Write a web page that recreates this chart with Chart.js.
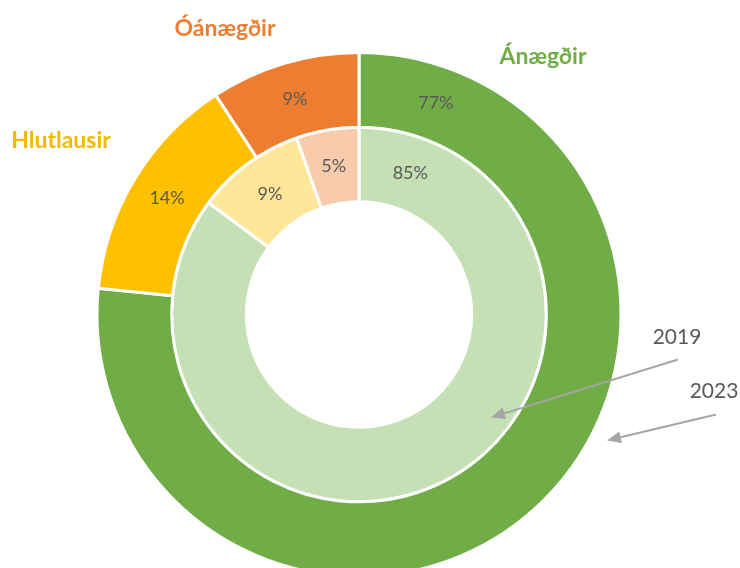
<!DOCTYPE html>
<html>
<head>
<meta charset="utf-8">
<script src="https://cdn.jsdelivr.net/npm/chart.js@4"></script>
<style>
html,body{margin:0;padding:0;background:#fff;overflow:hidden;width:740px;height:568px;}
#wrap{position:absolute;left:0;top:0;width:740px;height:600px;}
</style>
</head>
<body>
<div id="wrap"><canvas id="c" width="740" height="600"></canvas></div>
<script>
// ---- data ----
const categories = ['Ánægðir', 'Hlutlausir', 'Óánægðir'];
const years = ['2023', '2019'];
const values2023 = [76.6, 14.2, 9.2];
const values2019 = [85.0, 9.4, 5.4];

const outerColors = ['#70AD47', '#FFC000', '#ED7D31'];
const innerColors = ['#C5E0B4', '#FFE699', '#F8CBAD'];
const catLabelColors = ['#70AD47', '#F5B800', '#ED7D31'];

const ringLabels = {
  id: 'ringLabels',
  afterDatasetsDraw(chart) {
    const ctx = chart.ctx;
    ctx.save();
    ctx.font = '18px Lato, "Open Sans", sans-serif';
    ctx.fillStyle = '#595959';
    ctx.textAlign = 'center';
    ctx.textBaseline = 'middle';
    chart.data.datasets.forEach((ds, di) => {
      const meta = chart.getDatasetMeta(di);
      meta.data.forEach((arc, i) => {
        const p = arc.getProps(['x','y','startAngle','endAngle','innerRadius','outerRadius'], true);
        let ang = (p.startAngle + p.endAngle) / 2;
        if (i === 0) ang = p.startAngle + 20 * Math.PI / 180; // big slice label sits near its start
        const r = (p.innerRadius + p.outerRadius) / 2;
        ctx.fillText(Math.round(ds.data[i]) + '%', p.x + Math.cos(ang) * r, p.y + Math.sin(ang) * r);
      });
    });
    // category labels (outer ring)
    const arc0 = chart.getDatasetMeta(0).data[0];
    const cx = arc0.x, cy = arc0.y;
    const catOffsets = [[184, -258], [-298, -174], [-134, -286]];
    ctx.font = 'bold 23px Lato, "Open Sans", sans-serif';
    categories.forEach((c, i) => {
      ctx.fillStyle = catLabelColors[i];
      ctx.fillText(c, cx + catOffsets[i][0], cy + catOffsets[i][1]);
    });
    // year callouts with arrows
    const callouts = [
      {text: years[1], tx: 318, ty: 23, x1: 319, y1: 45, x2: 132, y2: 103},
      {text: years[0], tx: 355, ty: 77, x1: 357, y1: 100, x2: 248, y2: 126}
    ];
    ctx.font = '21px Lato, "Open Sans", sans-serif';
    callouts.forEach(co => {
      ctx.fillStyle = '#595959';
      ctx.fillText(co.text, cx + co.tx, cy + co.ty);
      const ax = cx + co.x1, ay = cy + co.y1, bx = cx + co.x2, by = cy + co.y2;
      const a = Math.atan2(by - ay, bx - ax);
      const hl = 14, hw = 6;
      const ex = bx - Math.cos(a) * hl, ey = by - Math.sin(a) * hl;
      ctx.strokeStyle = '#A6A6A6';
      ctx.lineWidth = 2;
      ctx.beginPath(); ctx.moveTo(ax, ay); ctx.lineTo(ex, ey); ctx.stroke();
      ctx.fillStyle = '#A6A6A6';
      ctx.beginPath();
      ctx.moveTo(bx, by);
      ctx.lineTo(ex + Math.sin(a) * hw, ey - Math.cos(a) * hw);
      ctx.lineTo(ex - Math.sin(a) * hw, ey + Math.cos(a) * hw);
      ctx.closePath(); ctx.fill();
    });
    ctx.restore();
  }
};

new Chart(document.getElementById('c'), {
  type: 'doughnut',
  data: {
    labels: categories,
    datasets: [
      {label: years[0], data: values2023, backgroundColor: outerColors, borderColor: '#ffffff', borderWidth: 3, hoverOffset: 0},
      {label: years[1], data: values2019, backgroundColor: innerColors, borderColor: '#ffffff', borderWidth: 3, hoverOffset: 0}
    ]
  },
  options: {
    responsive: false,
    animation: false,
    devicePixelRatio: 1,
    cutout: '43%',
    layout: {padding: {top: 51, bottom: 22, left: 0, right: 22}},
    plugins: {legend: {display: false}, tooltip: {enabled: false}}
  },
  plugins: [ringLabels]
});
</script>
</body>
</html>
